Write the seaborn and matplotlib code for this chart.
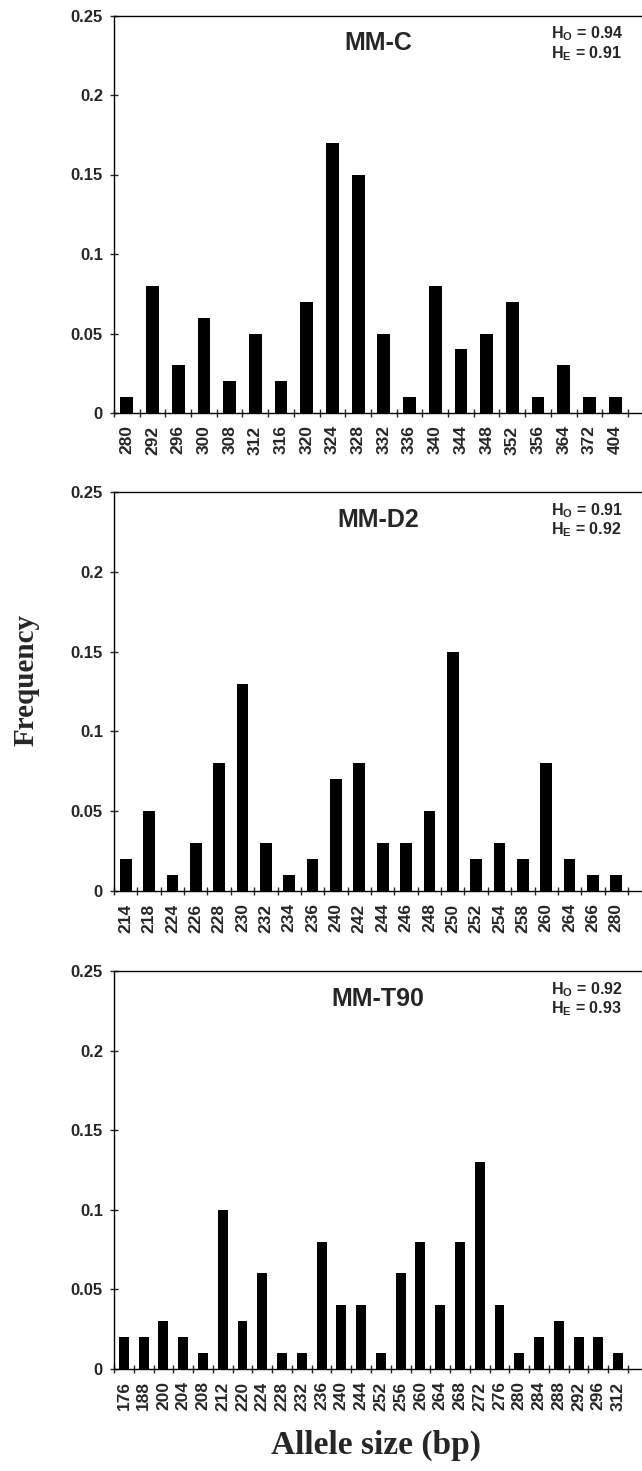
import matplotlib
matplotlib.use("Agg")
import matplotlib.pyplot as plt
import seaborn as sns
import numpy as np
import pandas as pd

# ---- data ----
mmc_sizes = ["280", "292", "296", "300", "308", "312", "316", "320", "324", "328",
             "332", "336", "340", "344", "348", "352", "356", "364", "372", "404"]
mmc_freq = [0.01, 0.08, 0.03, 0.06, 0.02, 0.05, 0.02, 0.07, 0.17, 0.15,
            0.05, 0.01, 0.08, 0.04, 0.05, 0.07, 0.01, 0.03, 0.01, 0.01]

mmd2_sizes = ["214", "218", "224", "226", "228", "230", "232", "234", "236", "240", "242",
              "244", "246", "248", "250", "252", "254", "258", "260", "264", "266", "280"]
mmd2_freq = [0.02, 0.05, 0.01, 0.03, 0.08, 0.13, 0.03, 0.01, 0.02, 0.07, 0.08,
             0.03, 0.03, 0.05, 0.15, 0.02, 0.03, 0.02, 0.08, 0.02, 0.01, 0.01]

mmt90_sizes = ["176", "188", "200", "204", "208", "212", "220", "224", "228", "232", "236",
               "240", "244", "252", "256", "260", "264", "268", "272", "276", "280", "284",
               "288", "292", "296", "312"]
mmt90_freq = [0.02, 0.02, 0.03, 0.02, 0.01, 0.10, 0.03, 0.06, 0.01, 0.01, 0.08,
              0.04, 0.04, 0.01, 0.06, 0.08, 0.04, 0.08, 0.13, 0.04, 0.01, 0.02,
              0.03, 0.02, 0.02, 0.01]

panel_titles = ["MM-C", "MM-D2", "MM-T90"]
ho_values = ["0.94", "0.91", "0.92"]
he_values = ["0.91", "0.92", "0.93"]
y_ticks = [0, 0.05, 0.1, 0.15, 0.2, 0.25]
y_tick_labels = ["0", "0.05", "0.1", "0.15", "0.2", "0.25"]

panels = [(mmc_sizes, mmc_freq), (mmd2_sizes, mmd2_freq), (mmt90_sizes, mmt90_freq)]

# ---- style ----
sns.set_style("ticks")
plt.rcParams["font.family"] = ["Liberation Sans", "DejaVu Sans"]
plt.rcParams["mathtext.fontset"] = "custom"
plt.rcParams["mathtext.rm"] = "Liberation Sans:bold"
plt.rcParams["mathtext.bf"] = "Liberation Sans:bold"

W, H = 642, 1471
fig = plt.figure(figsize=(W / 100, H / 100), dpi=100)

ax_left = 114
ax_right = 642
cat_span = 514  # pixels spanned by the categories
panel_px = [(15.5, 413), (492, 891), (971, 1369)]

for i, ((sizes, freq), (top, bottom)) in enumerate(zip(panels, panel_px)):
    ax = fig.add_axes([ax_left / W, 1 - bottom / H, (ax_right - ax_left) / W, (bottom - top) / H])
    df = pd.DataFrame({"size": sizes, "freq": freq})
    sns.barplot(data=df, x="size", y="freq", order=sizes, color="black",
                width=0.5, saturation=1, edgecolor="black", linewidth=0, ax=ax)
    n = len(sizes)
    ax.set_xlim(-0.5, -0.5 + n * (ax_right - ax_left) / cat_span)
    ax.set_ylim(0, 0.25)
    ax.set_yticks(y_ticks)
    ax.set_yticklabels(y_tick_labels, fontsize=12, fontweight="bold")
    ax.set_xticks(range(n))
    ax.set_xticklabels(sizes, rotation=90, fontsize=12.5, fontweight="bold")
    ax.set_xticks(np.arange(n + 1) - 0.5, minor=True)
    ax.tick_params(axis="x", which="major", length=0, pad=9)
    ax.tick_params(axis="x", which="minor", direction="inout", length=6, width=1)
    ax.tick_params(axis="y", which="major", direction="inout", length=6, width=1, pad=5)
    ax.set_xlabel("")
    ax.set_ylabel("")
    for s in ["left", "top", "bottom"]:
        ax.spines[s].set_visible(True)
        ax.spines[s].set_linewidth(1.0)
        ax.spines[s].set_color("black")
    ax.spines["right"].set_visible(False)
    ax.text(0.5, 0.93, panel_titles[i], transform=ax.transAxes, ha="center", va="center",
            fontsize=18, fontweight="bold")
    ax.text(0.828, 0.954, r"H$_\mathregular{O}$ = " + ho_values[i], transform=ax.transAxes,
            ha="left", va="center", fontsize=11.5, fontweight="bold")
    ax.text(0.828, 0.905, r"H$_\mathregular{E}$ = " + he_values[i], transform=ax.transAxes,
            ha="left", va="center", fontsize=11.5, fontweight="bold")

fig.text(26 / W, 1 - 680 / H, "Frequency", rotation=90, ha="center", va="center",
         fontsize=21, fontweight="bold", family=["Liberation Serif", "DejaVu Serif"])
fig.text(376 / W, 1 - 1445 / H, "Allele size (bp)", ha="center", va="center",
         fontsize=24, fontweight="bold", family=["Liberation Serif", "DejaVu Serif"])

fig.savefig("out.png", dpi=100)
